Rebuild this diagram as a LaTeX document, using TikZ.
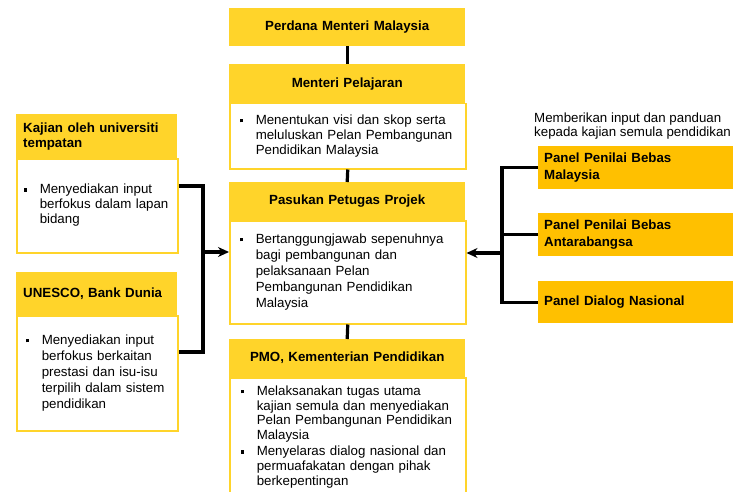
\documentclass[tikz,border=0pt]{standalone}
\usepackage{fontspec}
\setmainfont{Liberation Sans}
\usetikzlibrary{arrows.meta}

\definecolor{kuning}{HTML}{FFD42A}
\definecolor{jingga}{HTML}{FFC000}
\newcommand{\saiz}{\fontsize{13.3}{14.8}\selectfont}
\newcommand{\titik}[1]{\makebox[16pt][l]{\raisebox{2pt}{\rule{3.6pt}{3.6pt}}}\begin{tabular}[t]{@{}l@{}}#1\end{tabular}}

\begin{document}
\begin{tikzpicture}[x=1pt, y=-1pt, >={Stealth[length=11pt,width=10pt]},
    every node/.style={font=\saiz},
    hdr/.style={anchor=north west, fill=kuning, inner sep=0pt, font=\saiz\bfseries, align=center},
    isi/.style={anchor=north west, fill=white, draw=kuning, line width=1.5pt, inner xsep=10pt, inner ysep=0pt, align=left},
    panel/.style={anchor=north west, fill=jingga, inner xsep=6pt, inner ysep=0pt, text width=188pt, minimum height=43pt, font=\fontsize{13.3}{16.5}\selectfont\bfseries, align=left},
    link/.style={line width=3.2pt}]
                \clip (0,0) rectangle (733,492);

                % Lajur tengah
                \node[isi, text width=216pt, minimum height=65pt] (mpbody) at (229,103) {\titik{Menentukan visi dan skop serta\\meluluskan Pelan Pembangunan\\Pendidikan Malaysia}};
                \node[isi, text width=216pt, minimum height=103pt, font=\fontsize{13.3}{16}\selectfont] (pppbody) at (229,220) {\titik{Bertanggungjawab sepenuhnya\\bagi pembangunan dan\\pelaksanaan Pelan\\Pembangunan Pendidikan\\Malaysia}};
                \node[isi, inner xsep=11pt, text width=214pt, minimum height=119pt] (pmobody) at (229,377) {\titik{Melaksanakan tugas utama\\kajian semula dan menyediakan\\Pelan Pembangunan Pendidikan\\Malaysia}\\\titik{Menyelaras dialog nasional  dan\\permuafakatan dengan pihak\\berkepentingan}};

                \node[hdr, text width=236pt, minimum height=38pt] (pm) at (229,8) {Perdana Menteri Malaysia};
                \node[hdr, text width=236pt, minimum height=39pt] (mp) at (229,64) {Menteri Pelajaran};
                \node[hdr, text width=236pt, minimum height=38pt] (ppp) at (229,182) {Pasukan Petugas Projek};
                \node[hdr, text width=236pt, minimum height=38pt] (pmo) at (229,339) {PMO, Kementerian Pendidikan};

                % Lajur kiri
                \node[isi, inner xsep=7pt, text width=147pt, minimum height=94pt] (kajianbody) at (16,158) {\titik{Menyediakan input\\berfokus dalam lapan\\bidang}};
                \node[isi, inner xsep=9pt, text width=143pt, minimum height=115pt, font=\fontsize{13.3}{16}\selectfont] (unescobody) at (16,315) {\titik{Menyediakan input\\berfokus berkaitan\\prestasi  dan isu-isu\\terpilih dalam sistem\\pendidikan}};
                \node[hdr, align=left, inner xsep=7pt, text width=147pt, minimum height=44pt] (kajian) at (16,114) {Kajian oleh universiti\\tempatan};
                \node[hdr, align=left, inner xsep=7pt, text width=147pt, minimum height=43pt] (unesco) at (16,272) {UNESCO, Bank Dunia};

                % Panel kanan
                \node[anchor=west, inner sep=0pt, align=left] (nota) at (534,126) {Memberikan input dan panduan\\kepada kajian semula pendidikan};
                \node[panel] (panel1) at (538,146) {Panel Penilai Bebas\\Malaysia};
                \node[panel] (panel2) at (538,213) {Panel Penilai Bebas\\Antarabangsa};
                \node[panel, minimum height=42pt] (panel3) at (538,281) {Panel Dialog Nasional};

                % Penyambung
                \draw[link] (pm.south) -- (mp.north);
                \draw[link] (mpbody.south) -- (ppp.north);
                \draw[link] (pppbody.south) -- (pmo.north);

                \coordinate (ljoin) at (203,252);
                \draw[link] ([yshift=-28pt]kajianbody.north east) -| (ljoin) |- ([yshift=-37pt]unescobody.north east);
                \draw[link, ->] (ljoin) -- (ljoin -| pppbody.west);

                \coordinate (rjoin) at (502,253);
                \draw[link] (panel1.west) -| (rjoin) |- (panel3.west);
                \draw[link] (panel2.west) -- (panel2.west -| rjoin);
                \draw[link, ->] (rjoin) -- (rjoin -| pppbody.east);
\end{tikzpicture}
\end{document}
